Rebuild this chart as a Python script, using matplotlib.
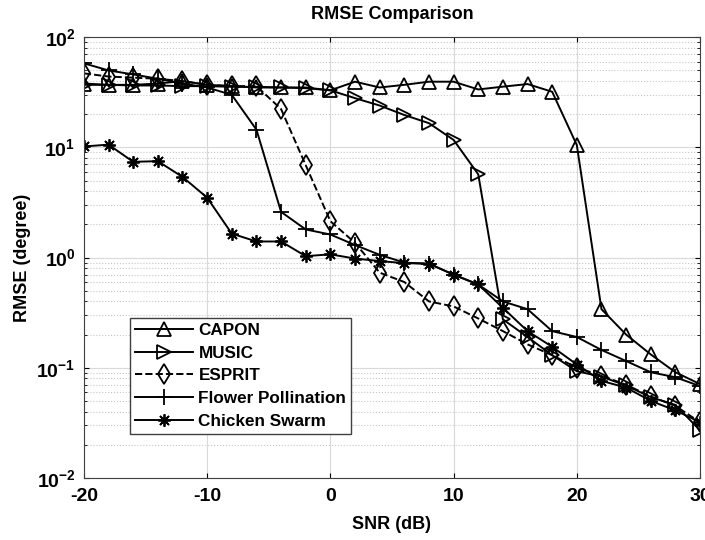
import numpy as np
from matplotlib import pyplot as plt
from matplotlib.ticker import FixedLocator, FixedFormatter

snr = list(range(-20, 31, 2))

capon = [38, 37, 37, 38, 40, 37, 36, 35, 35, 35, 33, 39.5, 35, 37, 39.5, 39.5, 33.6, 35.6, 37.6, 32,
         10.5, 0.34, 0.20, 0.132, 0.091, 0.071]
music = [37, 37, 36.5, 36.5, 36, 36, 35.5, 35.5, 35, 34.5, 33, 28, 24, 19.7, 16.6, 11.7,
         5.7, 0.275, 0.19, 0.13, 0.093, 0.083, 0.069, 0.054, 0.046, 0.027]
esprit = [47, 44, 43, 42, 40, 37, 36, 36, 22.3, 6.9, 2.14, 1.36, 0.73, 0.60, 0.40, 0.36,
          0.28, 0.215, 0.163, 0.13, 0.1, 0.085, 0.07, 0.055, 0.045, 0.032]
flower = [58, 50, 46, 42, 38, 35, 30, 14.5, 2.6, 1.8, 1.62, 1.3, 1.06, 0.9, 0.88, 0.70,
          0.57, 0.40, 0.34, 0.215, 0.19, 0.145, 0.115, 0.091, 0.082, 0.068]
chicken = [10.2, 10.6, 7.4, 7.5, 5.4, 3.5, 1.65, 1.4, 1.4, 1.03, 1.07, 0.98, 0.93, 0.89,
           0.88, 0.70, 0.57, 0.35, 0.215, 0.155, 0.107, 0.076, 0.066, 0.05, 0.041, 0.032]

xticks = [-20, -10, 0, 10, 20, 30]
yticks = [1e-2, 1e-1, 1e0, 1e1, 1e2]
ytick_labels = [r'$\mathregular{10^{-2}}$', r'$\mathregular{10^{-1}}$', r'$\mathregular{10^{0}}$',
                r'$\mathregular{10^{1}}$', r'$\mathregular{10^{2}}$']

plt.rcParams['font.family'] = ['Liberation Sans', 'DejaVu Sans']
plt.rcParams['font.weight'] = 'bold'
plt.rcParams['axes.unicode_minus'] = False
plt.rcParams['mathtext.fontset'] = 'custom'
plt.rcParams['mathtext.rm'] = 'Liberation Sans:bold'
plt.rcParams['mathtext.it'] = 'Liberation Sans:bold'
plt.rcParams['mathtext.bf'] = 'Liberation Sans:bold'

fig = plt.figure(figsize=(7.05, 5.4), dpi=100)
ax = fig.add_axes([0.119, 0.115, 0.874, 0.816])

style = dict(color='black', linewidth=1.4, markerfacecolor='none', markeredgecolor='black',
             markeredgewidth=1.3)
ax.semilogy(snr, capon, marker='^', markersize=10, label='CAPON', **style)
ax.semilogy(snr, music, marker='>', markersize=10, label='MUSIC', **style)
ax.semilogy(snr, esprit, marker='d', markersize=10, linestyle='--', label='ESPRIT', **style)
ax.semilogy(snr, flower, marker='+', markersize=11, label='Flower Pollination', **style)
ax.semilogy(snr, chicken, marker=(8, 2, 0), markersize=9, label='Chicken Swarm', **style)

ax.set_xlim(-20, 30)
ax.set_ylim(1e-2, 1e2)
ax.set_xticks(xticks)
ax.yaxis.set_major_locator(FixedLocator(yticks))
ax.yaxis.set_major_formatter(FixedFormatter(ytick_labels))
ax.grid(True, which='major', color='#d9d9d9', linestyle='-', linewidth=0.8)
ax.grid(True, which='minor', axis='y', color='#c8c8c8', linestyle=':', linewidth=0.8)
ax.tick_params(which='both', direction='in', top=True, right=True, labelsize=14)
ax.tick_params(axis='x', pad=7)
ax.tick_params(axis='y', pad=6)
ax.tick_params(axis='x', which='minor', top=False, bottom=False)
for s in ax.spines.values():
    s.set_color('#404040')

ax.set_xlabel('SNR (dB)', fontsize=13, fontweight='bold', labelpad=8)
ax.set_ylabel('RMSE (degree)', fontsize=13, fontweight='bold', labelpad=4)
ax.set_title('RMSE Comparison', fontsize=13, fontweight='bold', pad=13)

leg = ax.legend(loc='lower left', bbox_to_anchor=(0.075, 0.1), fontsize=12.3, fancybox=False,
                framealpha=1, edgecolor='#404040', handlelength=3.4, labelspacing=0.45,
                borderpad=0.3, handletextpad=0.3, borderaxespad=0)
leg.get_frame().set_linewidth(1.0)

plt.savefig('out.png', dpi=100)
